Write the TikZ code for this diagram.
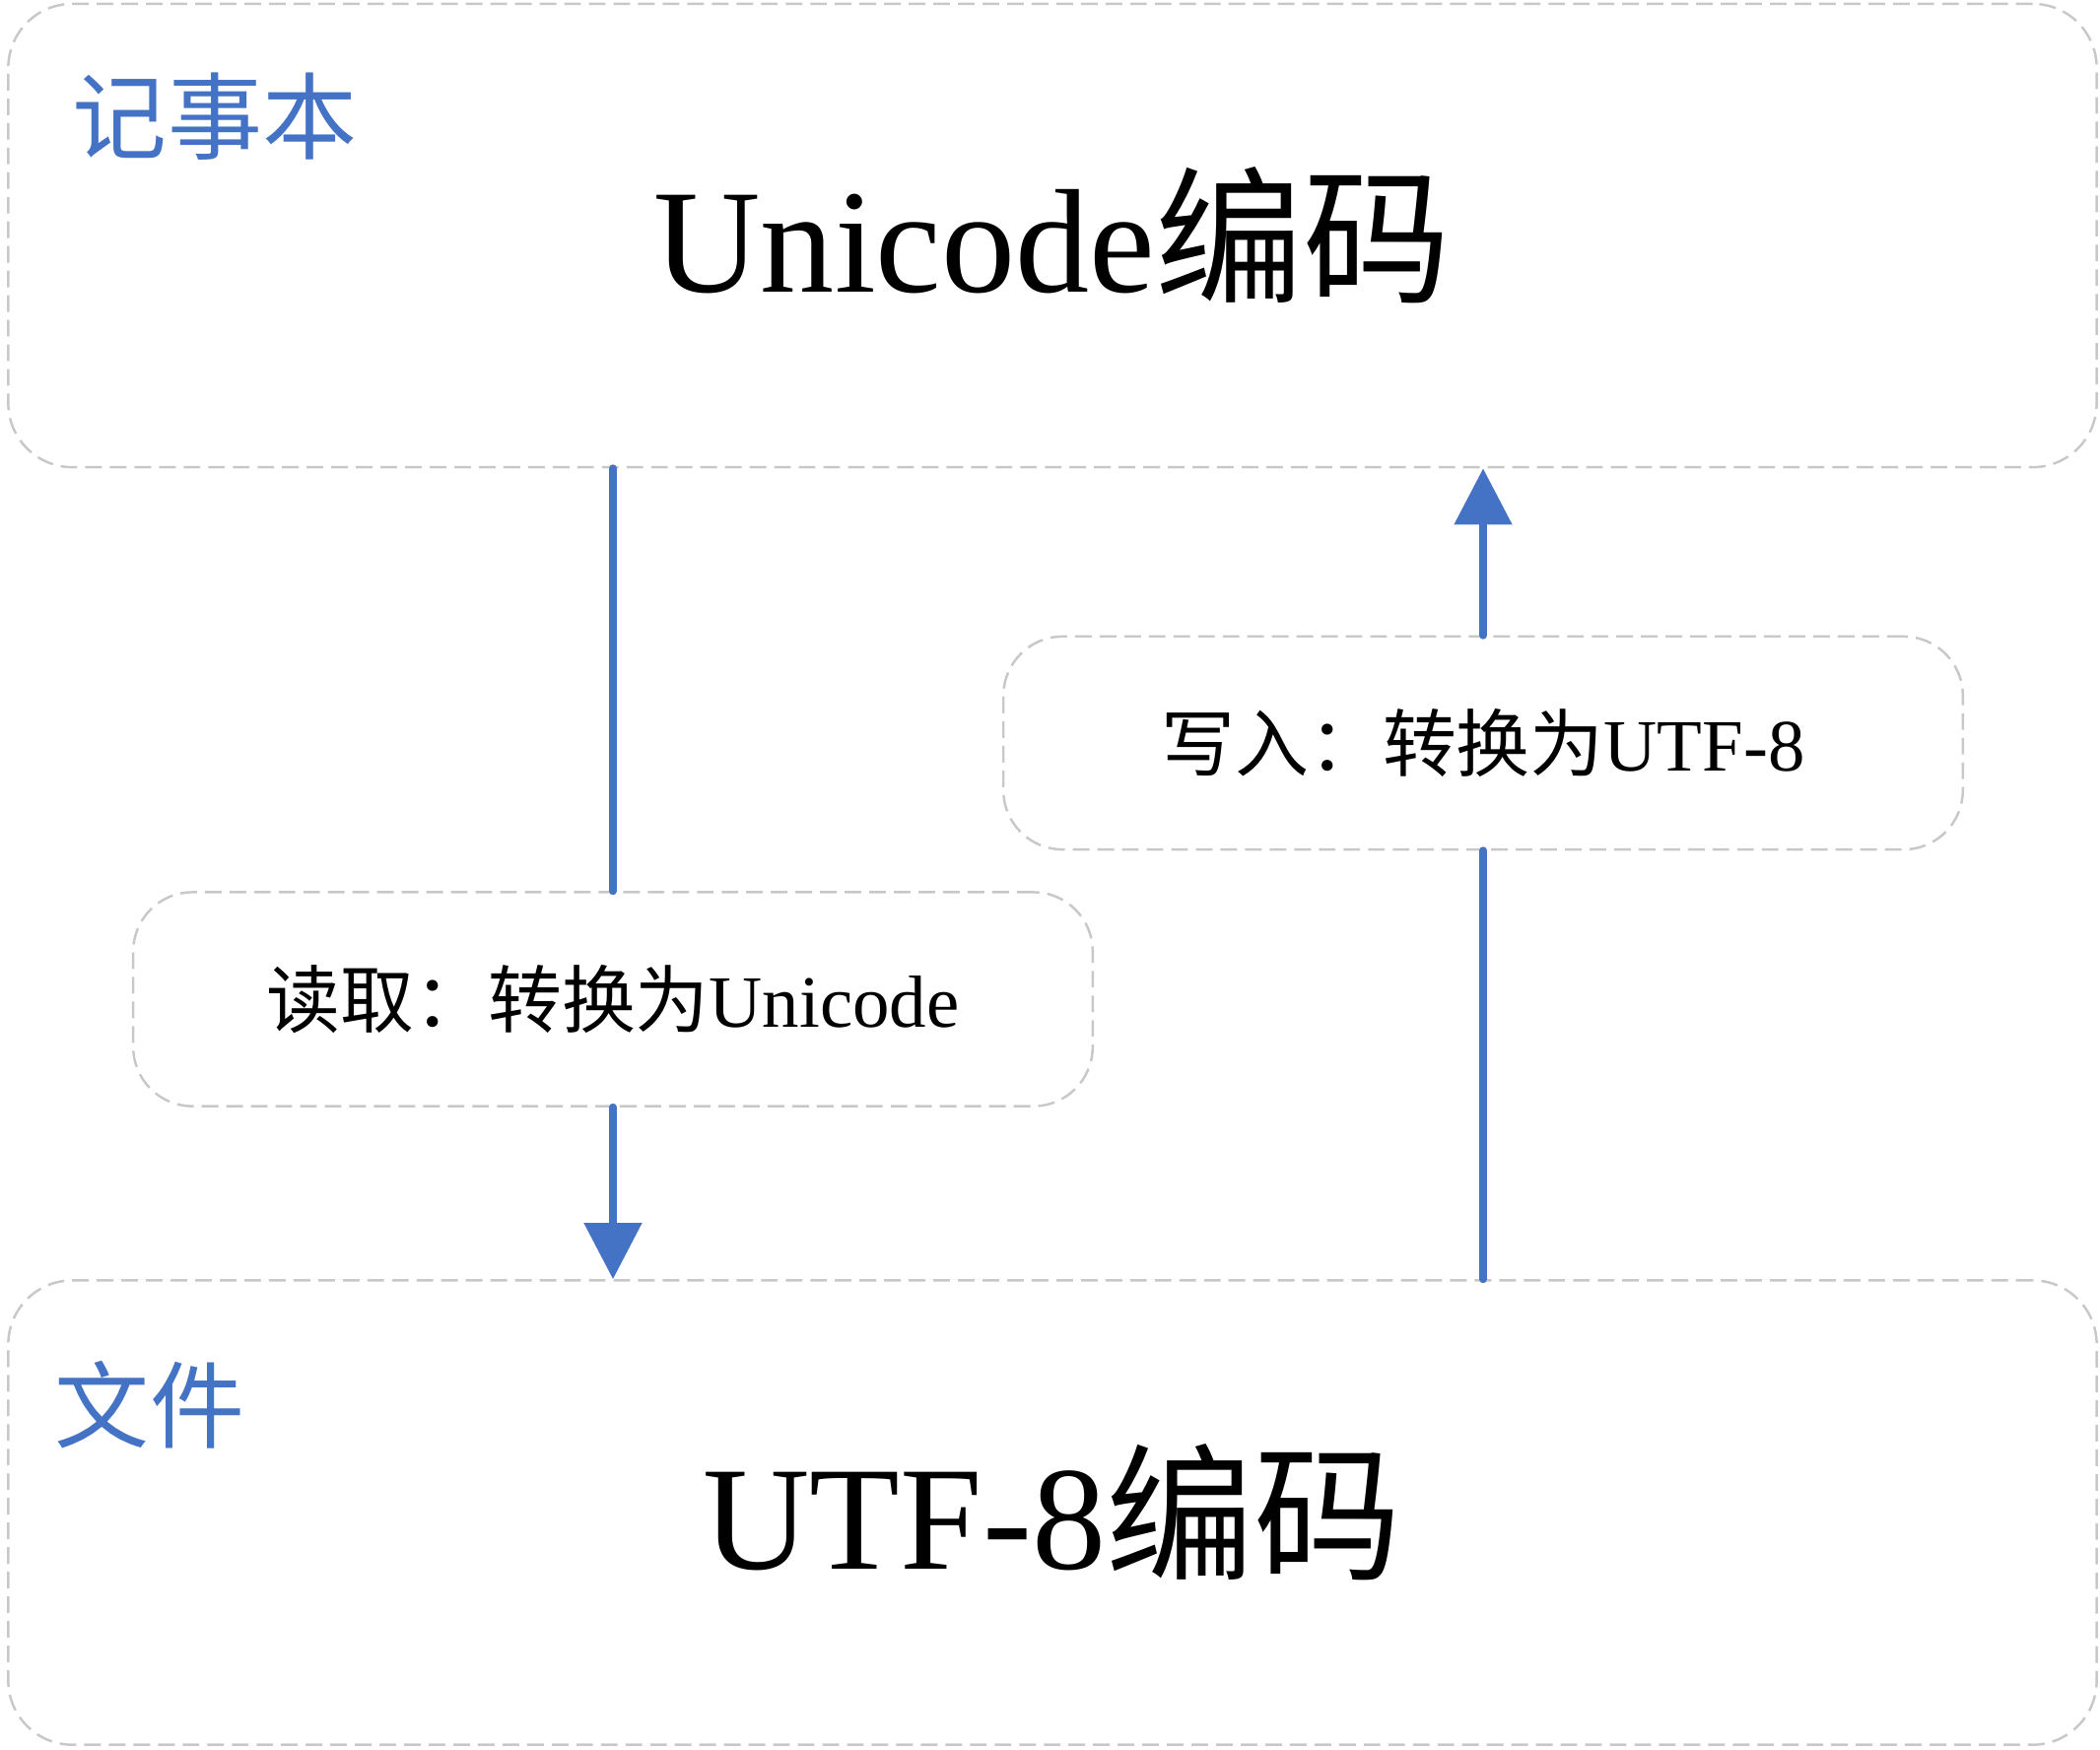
\documentclass[tikz,border=0pt]{standalone}
\usepackage{fontspec}
\setmainfont{Liberation Serif}
\newfontfamily\cjk{Noto Sans CJK SC}
\usetikzlibrary{arrows.meta}
\definecolor{lineblue}{HTML}{4472C4}
\definecolor{boxgray}{HTML}{C8C8C8}
\tikzset{
  frame/.style={draw=boxgray, line width=0.7pt, dash pattern=on 4.8pt off 2.3pt,
    rounded corners=0.65cm, inner sep=0pt, align=center},
  tag/.style={text=lineblue, inner sep=0pt, font=\cjk\fontsize{27.3pt}{30pt}\selectfont},
  flow/.style={draw=lineblue, line width=2.3pt, line cap=round},
  flowtip/.style={flow, -{Triangle[width=0.57cm,length=0.57cm]}},
}
\begin{document}
\begin{tikzpicture}[x=0.01cm, y=-0.01cm]
\useasboundingbox (0,0) rectangle (2131,1775);

\node[frame, minimum width=21.18cm, minimum height=4.7cm,
  font=\fontsize{42.7pt}{46pt}\selectfont] (notepad) at (1068,239) {Unicode{\cjk 编码}};
\node[frame, minimum width=21.18cm, minimum height=4.71cm,
  font=\fontsize{42.7pt}{46pt}\selectfont] (file) at (1068,1535) {UTF-8{\cjk 编码}};

\node[tag] (notepadtag) at (218,118) {记事本};
\node[tag] (filetag) at (152,1426) {文件};

\node[frame, minimum width=9.73cm, minimum height=2.17cm, rounded corners=0.6cm,
  font=\fontsize{21.3pt}{24pt}\selectfont] (read) at (622,1014) {{\cjk 读取：转换为}Unicode};
\node[frame, minimum width=9.73cm, minimum height=2.16cm, rounded corners=0.6cm,
  font=\fontsize{21.3pt}{24pt}\selectfont] (write) at (1505,754) {{\cjk 写入：转换为}UTF-8};

\draw[flow] (read.north |- notepad.south) -- (read.north);
\draw[flowtip] (read.south) -- (read.south |- file.north);
\draw[flow] (write.south |- file.north) -- (write.south);
\draw[flowtip] (write.north) -- (write.north |- notepad.south);
\end{tikzpicture}
\end{document}
